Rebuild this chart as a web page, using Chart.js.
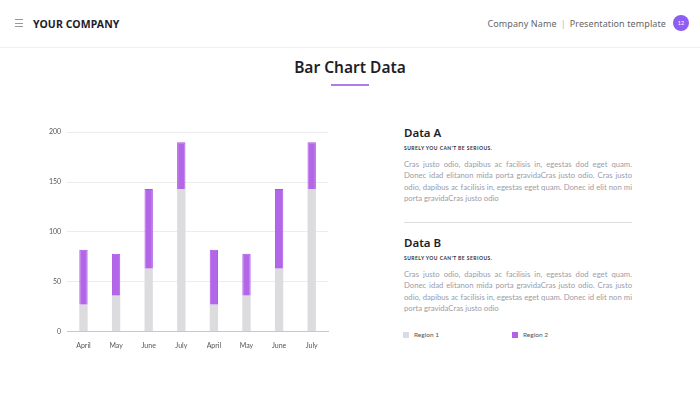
<!DOCTYPE html>
<html lang="en">
<head>
<meta charset="UTF-8">
<title>Bar Chart Data</title>
<style>
  body {
    margin: 0;
    width: 700px;
    height: 394px;
    background: #fff;
    font-family: Lato, sans-serif;
    position: relative;
    overflow: hidden;
  }
  .header {
    position: absolute;
    left: 0; top: 0;
    width: 700px; height: 47px;
    border-bottom: 1px solid #f0f0f2;
  }
  .menu {
    position: absolute;
    left: 15px; top: 19px;
    width: 8px;
  }
  .menu span {
    display: block;
    height: 1px;
    background: #999;
    margin-bottom: 2.5px;
  }
  .brand {
    position: absolute;
    left: 33px; top: 17px;
    font-family: "Noto Sans", sans-serif;
    font-weight: 700;
    font-size: 10.5px;
    color: #1e1e28;
    letter-spacing: 0.1px;
  }
  .right {
    position: absolute;
    right: 34px; top: 17px;
    font-family: "Noto Sans", sans-serif;
    font-size: 9px;
    color: #666;
    letter-spacing: 0.1px;
  }
  .right .sep { color: #bbb; margin: 0 4px; }
  .badge {
    position: absolute;
    left: 673px; top: 15px;
    width: 16px; height: 16px;
    border-radius: 50%;
    background: #8d5ef2;
    color: #fff;
    font-size: 5.5px;
    text-align: center;
    line-height: 16px;
  }
  h1 {
    position: absolute;
    left: 0; top: 56px;
    width: 700px;
    margin: 0;
    text-align: center;
    font-family: "Noto Sans", sans-serif;
    font-weight: 600;
    font-size: 15.5px;
    color: #1e1e28;
  }
  .uline {
    position: absolute;
    left: 331px; top: 84px;
    width: 38px; height: 1.5px;
    background: #b07ae8;
  }
  #wrap {
    position: absolute;
    left: 40px; top: 122px;
    width: 295px; height: 230px;
  }
  .block {
    position: absolute;
    left: 404px;
    width: 228px;
  }
  .block h2 {
    margin: 0;
    font-family: "Noto Sans", sans-serif;
    font-weight: 600;
    font-size: 11.5px;
    color: #1e1e28;
  }
  .block h3 {
    margin: 5px 0 0 0;
    font-size: 5px;
    font-weight: 700;
    letter-spacing: 0.45px;
    color: #333;
  }
  .block p {
    margin: 8px 0 0 0;
    font-size: 7.7px;
    line-height: 11.4px;
    color: #9c9ca8;
    text-align: justify;
  }
  .divider {
    position: absolute;
    left: 404px; top: 222px;
    width: 228px; height: 1px;
    background: #ddd;
  }
  .legend {
    position: absolute;
    top: 331px;
    font-size: 6.5px;
    color: #555;
  }
  .legend i {
    display: inline-block;
    width: 6px; height: 6px;
    margin-right: 5px;
    vertical-align: -1px;
  }
</style>
</head>
<body>
<div class="header">
  <div class="menu"><span></span><span></span><span></span></div>
  <div class="brand">YOUR COMPANY</div>
  <div class="right">Company Name<span class="sep">|</span>Presentation template</div>
  <div class="badge">12</div>
</div>
<h1>Bar Chart Data</h1>
<div class="uline"></div>

<div id="wrap"><canvas id="chart"></canvas></div>

<div class="block" style="top:125px;">
  <h2>Data A</h2>
  <h3>SURELY YOU CAN'T BE SERIOUS.</h3>
  <p>Cras justo odio, dapibus ac facilisis in, egestas dod eget quam. Donec idad elitanon mida porta gravidaCras justo odio. Cras justo odio, dapibus ac facilisis in, egestas eget quam. Donec id elit non mi porta gravidaCras justo odio</p>
</div>
<div class="divider"></div>
<div class="block" style="top:235px;">
  <h2>Data B</h2>
  <h3>SURELY YOU CAN'T BE SERIOUS.</h3>
  <p>Cras justo odio, dapibus ac facilisis in, egestas dod eget quam. Donec idad elitanon mida porta gravidaCras justo odio. Cras justo odio, dapibus ac facilisis in, egestas eget quam. Donec id elit non mi porta gravidaCras justo odio</p>
</div>
<div class="legend" style="left:403px;"><i style="background:#dcdcdf"></i>Region 1</div>
<div class="legend" style="left:512px;"><i style="background:#b262e6"></i>Region 2</div>

<script src="https://cdn.jsdelivr.net/npm/chart.js@4.4.0/dist/chart.umd.min.js"></script>
<script>
  var months = ['April', 'May', 'June', 'July', 'April', 'May', 'June', 'July'];
  var region1 = [27, 36, 63, 143, 27, 36, 63, 143];
  var region2 = [55, 42, 80, 47, 55, 42, 80, 47];
  var yTicks = [0, 50, 100, 150, 200];

  var ctx = document.getElementById('chart').getContext('2d');
  var chart = new Chart(ctx, {
    type: 'bar',
    data: {
      labels: months,
      datasets: [
        {
          label: 'Region 1',
          data: region1,
          backgroundColor: '#dcdcdf',
          borderWidth: 0,
          barPercentage: 0.32,
          categoryPercentage: 0.8
        },
        {
          label: 'Region 2',
          data: region2,
          backgroundColor: '#b466e8',
          borderColor: '#a655e2',
          borderWidth: 1,
          barPercentage: 0.32,
          categoryPercentage: 0.8
        }
      ]
    },
    options: {
      responsive: true,
      maintainAspectRatio: false,
      animation: false,
      plugins: {
        legend: { display: false },
        tooltip: { enabled: false }
      },
      layout: { padding: { top: 4, right: 7, left: 3 } },
      scales: {
        x: {
          stacked: true,
          grid: { display: false },
          border: { color: '#c8c8cc', width: 1 },
          ticks: {
            color: '#555',
            font: { family: 'Lato', size: 7 },
            padding: 2
          }
        },
        y: {
          stacked: true,
          min: yTicks[0],
          max: yTicks[yTicks.length - 1],
          afterBuildTicks: function(axis) {
            axis.ticks = yTicks.map(function(v) { return { value: v }; });
          },
          grid: { color: '#ececef', drawTicks: false },
          border: { display: false },
          ticks: {
            color: '#555',
            font: { family: 'Lato', size: 7 },
            padding: 6
          }
        }
      }
    }
  });
</script>
</body>
</html>
